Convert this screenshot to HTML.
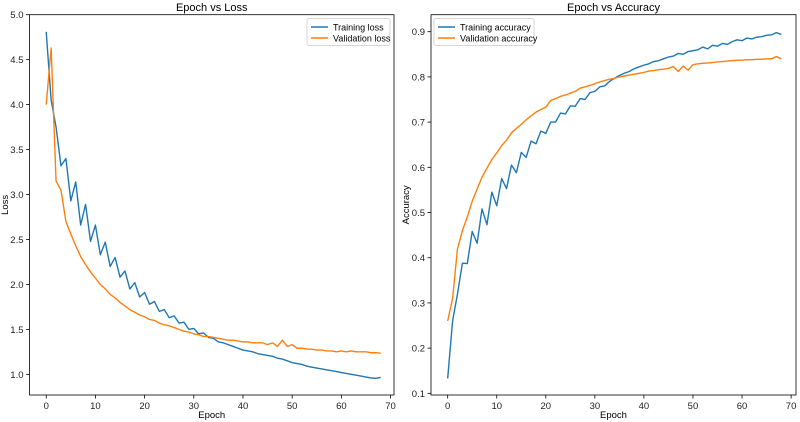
<!DOCTYPE html>
<html><head><meta charset="utf-8"><style>
body{margin:0;background:#fff}
svg{display:block;font-family:"Liberation Sans","DejaVu Sans",sans-serif}
</style></head><body>
<svg id="chart" width="800" height="422"></svg>
<script>
const epochs = Array.from({length:69},(_,i)=>i);
const trainLoss=[4.81,4.05,3.75,3.32,3.40,2.93,3.14,2.66,2.89,2.48,2.66,2.33,2.47,2.20,2.30,2.08,2.15,1.95,2.02,1.86,1.91,1.78,1.81,1.70,1.72,1.63,1.65,1.57,1.58,1.50,1.51,1.45,1.46,1.41,1.40,1.36,1.35,1.33,1.31,1.29,1.27,1.26,1.25,1.23,1.22,1.21,1.20,1.18,1.17,1.15,1.13,1.12,1.11,1.09,1.08,1.07,1.06,1.05,1.04,1.03,1.02,1.01,1.00,0.99,0.98,0.97,0.96,0.955,0.965];
const valLoss=[4.00,4.63,3.15,3.05,2.70,2.56,2.43,2.31,2.22,2.14,2.07,2.00,1.95,1.89,1.85,1.80,1.76,1.72,1.69,1.66,1.64,1.61,1.60,1.57,1.55,1.54,1.52,1.50,1.48,1.47,1.45,1.44,1.42,1.42,1.41,1.40,1.39,1.38,1.38,1.37,1.36,1.36,1.35,1.35,1.35,1.33,1.35,1.31,1.38,1.31,1.33,1.29,1.29,1.28,1.28,1.27,1.27,1.26,1.26,1.25,1.26,1.25,1.26,1.25,1.25,1.25,1.24,1.24,1.235];
const trainAcc=[0.133,0.26,0.32,0.388,0.387,0.458,0.432,0.508,0.473,0.545,0.515,0.575,0.553,0.605,0.588,0.633,0.622,0.658,0.652,0.680,0.675,0.700,0.700,0.720,0.718,0.736,0.735,0.752,0.750,0.765,0.768,0.778,0.780,0.790,0.797,0.803,0.808,0.812,0.818,0.822,0.826,0.829,0.834,0.836,0.840,0.844,0.846,0.852,0.850,0.856,0.858,0.860,0.866,0.862,0.870,0.868,0.874,0.872,0.878,0.882,0.880,0.886,0.884,0.888,0.889,0.892,0.893,0.898,0.894];
const valAcc=[0.26,0.31,0.42,0.46,0.49,0.525,0.552,0.578,0.598,0.617,0.632,0.648,0.660,0.676,0.686,0.695,0.705,0.714,0.722,0.728,0.733,0.748,0.752,0.757,0.760,0.764,0.768,0.775,0.778,0.781,0.785,0.789,0.792,0.795,0.797,0.800,0.802,0.804,0.806,0.808,0.810,0.813,0.814,0.816,0.817,0.819,0.823,0.812,0.824,0.815,0.827,0.829,0.830,0.831,0.832,0.833,0.834,0.835,0.836,0.837,0.837,0.838,0.838,0.839,0.839,0.840,0.840,0.845,0.840];
const xTicks=[0,10,20,30,40,50,60,70];
const lossTicks=[1.0,1.5,2.0,2.5,3.0,3.5,4.0,4.5,5.0];
const accTicks=[0.1,0.2,0.3,0.4,0.5,0.6,0.7,0.8,0.9];

const NS="http://www.w3.org/2000/svg";
const svg=document.getElementById('chart');
function el(tag,attrs,parent){const e=document.createElementNS(NS,tag);for(const k in attrs)e.setAttribute(k,attrs[k]);(parent||svg).appendChild(e);return e;}

function panel(cfg){
  const g=el('g',{});
  
  
  const L=cfg.left,R=cfg.right,T=14.7,B=395;
  const sx=v=>L+(v-cfg.xmin)/(cfg.xmax-cfg.xmin)*(R-L);
  const sy=v=>B-(v-cfg.ymin)/(cfg.ymax-cfg.ymin)*(B-T);
  cfg.yTicks.forEach(t=>{
    const y=sy(t);
    const tk=el('line',{x1:L-3.5,x2:L,y1:y,y2:y,stroke:'#000','stroke-width':0.8},g);
    
    
    const tx=el('text',{x:L-6,y:y+3.5,'text-anchor':'end','font-size':9.5,fill:'#222'},g);
    tx.textContent=t.toFixed(1);
    
    
  });
  xTicks.forEach(t=>{
    const x=sx(t);
    const tk=el('line',{x1:x,x2:x,y1:B,y2:B+3.5,stroke:'#000','stroke-width':0.8},g);
    
    
    const tx=el('text',{x:x,y:B+14,'text-anchor':'middle','font-size':9.5,fill:'#222'},g);
    tx.textContent=t;
    
    
  });
  cfg.series.forEach(s=>{
    const p=el('polyline',{points:epochs.map((e,i)=>sx(e).toFixed(2)+','+sy(s.data[i]).toFixed(2)).join(' '),fill:'none',stroke:s.color,'stroke-width':1.4,'stroke-linejoin':'round'},g);
    
    
  });
  const fr=el('rect',{x:L,y:T,width:R-L,height:B-T,fill:'none',stroke:'#000','stroke-width':0.8},g);
  
  
  const ti=el('text',{x:(L+R)/2,y:11,'text-anchor':'middle','font-size':11,fill:'#000'},g);
  ti.textContent=cfg.title;
  
  
  const xl=el('text',{x:(L+R)/2,y:418,'text-anchor':'middle','font-size':9.5,fill:'#000'},g);
  xl.textContent='Epoch';
  
  
  const yl=el('text',{x:0,y:0,'text-anchor':'middle','font-size':9.5,fill:'#000',transform:`translate(${cfg.ylabX},${(T+B)/2}) rotate(-90)`},g);
  yl.textContent=cfg.ylabel;
  
  
  const lg=el('g',{},g);
  
  
  const lx=cfg.legX,ly=18.5;
  el('rect',{x:lx,y:ly,width:cfg.legW,height:27,rx:2,fill:'#fff',stroke:'#ccc','stroke-width':0.8},lg);
  cfg.series.forEach((s,i)=>{
    const yy=ly+8.5+i*11;
    const ln=el('line',{x1:lx+4,x2:lx+21,y1:yy,y2:yy,stroke:s.color,'stroke-width':1.4},lg);
    
    
    const t=el('text',{x:lx+26,y:yy+3.3,'font-size':9,fill:'#000'},lg);
    t.textContent=s.label;
    
    
  });
}
panel({name:'loss-chart',title:'Epoch vs Loss',ylabel:'Loss',left:29.5,right:394,xmin:-3.4,xmax:70.7,ymin:0.77,ymax:5.0,yTicks:lossTicks,ylabX:8,legX:307,legW:83,
  series:[{name:'training-loss-line',label:'Training loss',data:trainLoss,color:'#1f77b4'},{name:'validation-loss-line',label:'Validation loss',data:valLoss,color:'#ff7f0e'}]});
panel({name:'accuracy-chart',title:'Epoch vs Accuracy',ylabel:'Accuracy',left:431,right:796,xmin:-3.4,xmax:71.0,ymin:0.0963,ymax:0.9376,yTicks:accTicks,ylabX:409,legX:434,legW:100,
  series:[{name:'training-accuracy-line',label:'Training accuracy',data:trainAcc,color:'#1f77b4'},{name:'validation-accuracy-line',label:'Validation accuracy',data:valAcc,color:'#ff7f0e'}]});
</script>
</body></html>
